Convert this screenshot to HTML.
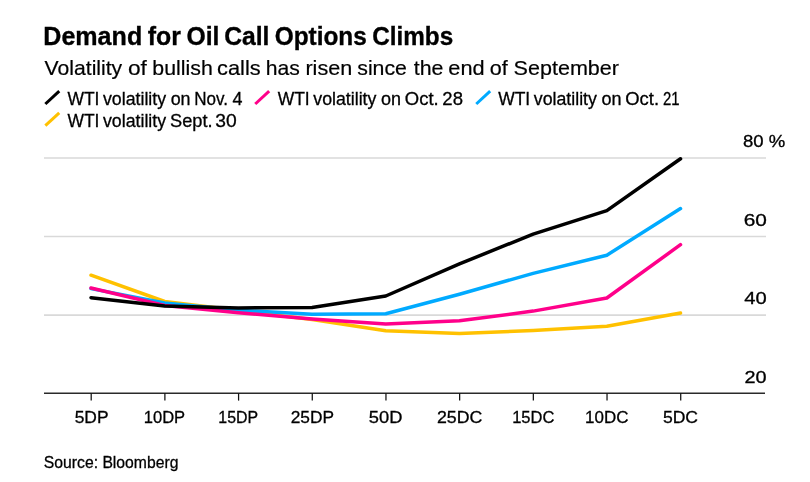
<!DOCTYPE html>
<html><head><meta charset="utf-8"><style>
html,body{margin:0;padding:0;background:#fff;width:810px;height:482px;overflow:hidden}
svg{display:block;will-change:transform}
text{font-family:"Liberation Sans", sans-serif;fill:#000;stroke:#000;stroke-width:0.2px}
text.t{stroke-width:0.35px}
text.o{stroke-width:0.3px}
</style></head><body>
<svg width="810" height="482" viewBox="0 0 810 482">
<line x1="44" y1="157.95" x2="766" y2="157.95" stroke="#d9d9d9" stroke-width="1.6"/>
<line x1="44" y1="236.5" x2="766" y2="236.5" stroke="#d9d9d9" stroke-width="1.6"/>
<line x1="44" y1="315.1" x2="766" y2="315.1" stroke="#d9d9d9" stroke-width="1.6"/>
<line x1="44" y1="393.2" x2="765" y2="393.2" stroke="#2a2a2a" stroke-width="1.5"/>
<line x1="91.20" y1="393.2" x2="91.20" y2="400.6" stroke="#111111" stroke-width="1.25"/>
<line x1="164.89" y1="393.2" x2="164.89" y2="400.6" stroke="#111111" stroke-width="1.25"/>
<line x1="238.58" y1="393.2" x2="238.58" y2="400.6" stroke="#111111" stroke-width="1.25"/>
<line x1="312.27" y1="393.2" x2="312.27" y2="400.6" stroke="#111111" stroke-width="1.25"/>
<line x1="385.96" y1="393.2" x2="385.96" y2="400.6" stroke="#111111" stroke-width="1.25"/>
<line x1="459.65" y1="393.2" x2="459.65" y2="400.6" stroke="#111111" stroke-width="1.25"/>
<line x1="533.34" y1="393.2" x2="533.34" y2="400.6" stroke="#111111" stroke-width="1.25"/>
<line x1="607.03" y1="393.2" x2="607.03" y2="400.6" stroke="#111111" stroke-width="1.25"/>
<line x1="680.72" y1="393.2" x2="680.72" y2="400.6" stroke="#111111" stroke-width="1.25"/>
<polyline points="91.00,275.20 164.69,301.50 238.38,310.50 312.07,319.60 385.76,330.70 459.45,333.40 533.14,330.60 606.83,326.20 680.52,313.00" fill="none" stroke="#ffc100" stroke-width="3.5" stroke-linejoin="round" stroke-linecap="round"/>
<polyline points="91.00,288.60 164.69,303.00 238.38,310.20 312.07,314.20 385.76,313.80 459.45,294.20 533.14,273.40 606.83,255.20 680.52,208.60" fill="none" stroke="#00aaff" stroke-width="3.5" stroke-linejoin="round" stroke-linecap="round"/>
<polyline points="91.00,288.00 164.69,305.50 238.38,312.80 312.07,319.00 385.76,324.00 459.45,320.80 533.14,311.10 606.83,298.00 680.52,244.70" fill="none" stroke="#ff008a" stroke-width="3.5" stroke-linejoin="round" stroke-linecap="round"/>
<polyline points="91.00,297.70 164.69,306.00 238.38,307.90 312.07,307.40 385.76,296.00 459.45,263.90 533.14,234.10 606.83,210.60 680.52,158.80" fill="none" stroke="#000000" stroke-width="3.5" stroke-linejoin="round" stroke-linecap="round"/>
<line x1="45.35" y1="104.00" x2="59.25" y2="91.20" stroke="#000000" stroke-width="3"/>
<line x1="255.25" y1="104.00" x2="269.15" y2="91.20" stroke="#ff008a" stroke-width="3"/>
<line x1="476.25" y1="104.00" x2="490.15" y2="91.20" stroke="#00aaff" stroke-width="3"/>
<line x1="45.35" y1="125.70" x2="59.25" y2="112.90" stroke="#ffc100" stroke-width="3"/>
<text class="t" x="43.29" y="44.7" font-size="25.7" font-weight="bold" textLength="98.93" lengthAdjust="spacingAndGlyphs">Demand</text>
<text class="t" x="147.82" y="44.7" font-size="25.7" font-weight="bold" textLength="33.15" lengthAdjust="spacingAndGlyphs">for</text>
<text class="t" x="186.44" y="44.7" font-size="25.7" font-weight="bold" textLength="32.97" lengthAdjust="spacingAndGlyphs">Oil</text>
<text class="t" x="224.14" y="44.7" font-size="25.7" font-weight="bold" textLength="45.25" lengthAdjust="spacingAndGlyphs">Call</text>
<text class="t" x="274.75" y="44.7" font-size="25.7" font-weight="bold" textLength="92.07" lengthAdjust="spacingAndGlyphs">Options</text>
<text class="t" x="372.26" y="44.7" font-size="25.7" font-weight="bold" textLength="80.94" lengthAdjust="spacingAndGlyphs">Climbs</text>
<text class="s" x="44.57" y="74.85" font-size="20.2" textLength="77.64" lengthAdjust="spacingAndGlyphs">Volatility</text>
<text class="s" x="127.92" y="74.85" font-size="20.2" textLength="18.95" lengthAdjust="spacingAndGlyphs">of</text>
<text class="s" x="152.35" y="74.85" font-size="20.2" textLength="60.38" lengthAdjust="spacingAndGlyphs">bullish</text>
<text class="s" x="217.06" y="74.85" font-size="20.2" textLength="43.59" lengthAdjust="spacingAndGlyphs">calls</text>
<text class="s" x="265.86" y="74.85" font-size="20.2" textLength="34.06" lengthAdjust="spacingAndGlyphs">has</text>
<text class="s" x="305.43" y="74.85" font-size="20.2" textLength="46.84" lengthAdjust="spacingAndGlyphs">risen</text>
<text class="s" x="357.24" y="74.85" font-size="20.2" textLength="49.71" lengthAdjust="spacingAndGlyphs">since</text>
<text class="s" x="413.84" y="74.85" font-size="20.2" textLength="29.67" lengthAdjust="spacingAndGlyphs">the</text>
<text class="s" x="448.36" y="74.85" font-size="20.2" textLength="36.27" lengthAdjust="spacingAndGlyphs">end</text>
<text class="s" x="489.66" y="74.85" font-size="20.2" textLength="18.01" lengthAdjust="spacingAndGlyphs">of</text>
<text class="s" x="513.63" y="74.85" font-size="20.2" textLength="105.39" lengthAdjust="spacingAndGlyphs">September</text>
<text class="o" x="67.38" y="104.8" font-size="17.9" textLength="32.06" lengthAdjust="spacingAndGlyphs">WTI</text>
<text class="o" x="102.98" y="104.8" font-size="17.9" textLength="63.16" lengthAdjust="spacingAndGlyphs">volatility</text>
<text class="o" x="170.65" y="104.8" font-size="17.9" textLength="19.91" lengthAdjust="spacingAndGlyphs">on</text>
<text class="o" x="194.27" y="104.8" font-size="17.9" textLength="33.75" lengthAdjust="spacingAndGlyphs">Nov.</text>
<text class="o" x="232.62" y="104.8" font-size="17.9" textLength="9.96" lengthAdjust="spacingAndGlyphs">4</text>
<text class="o" x="277.68" y="104.8" font-size="17.9" textLength="32.06" lengthAdjust="spacingAndGlyphs">WTI</text>
<text class="o" x="313.28" y="104.8" font-size="17.9" textLength="63.16" lengthAdjust="spacingAndGlyphs">volatility</text>
<text class="o" x="380.95" y="104.8" font-size="17.9" textLength="20.02" lengthAdjust="spacingAndGlyphs">on</text>
<text class="o" x="404.80" y="104.8" font-size="17.9" textLength="33.85" lengthAdjust="spacingAndGlyphs">Oct.</text>
<text class="o" x="442.39" y="104.8" font-size="17.9" textLength="20.62" lengthAdjust="spacingAndGlyphs">28</text>
<text class="o" x="498.18" y="104.8" font-size="17.9" textLength="32.06" lengthAdjust="spacingAndGlyphs">WTI</text>
<text class="o" x="533.78" y="104.8" font-size="17.9" textLength="63.16" lengthAdjust="spacingAndGlyphs">volatility</text>
<text class="o" x="601.45" y="104.8" font-size="17.9" textLength="20.02" lengthAdjust="spacingAndGlyphs">on</text>
<text class="o" x="625.30" y="104.8" font-size="17.9" textLength="33.74" lengthAdjust="spacingAndGlyphs">Oct.</text>
<text class="o" x="663.07" y="104.8" font-size="17.9" textLength="16.59" lengthAdjust="spacingAndGlyphs">21</text>
<text class="o" x="67.38" y="126.5" font-size="17.9" textLength="32.06" lengthAdjust="spacingAndGlyphs">WTI</text>
<text class="o" x="102.98" y="126.5" font-size="17.9" textLength="63.16" lengthAdjust="spacingAndGlyphs">volatility</text>
<text class="o" x="170.01" y="126.5" font-size="17.9" textLength="42.59" lengthAdjust="spacingAndGlyphs">Sept.</text>
<text class="o" x="215.29" y="126.5" font-size="17.9" textLength="21.42" lengthAdjust="spacingAndGlyphs">30</text>
<text class="o" x="742.93" y="147.0" font-size="16.0" textLength="42.26" lengthAdjust="spacingAndGlyphs">80 %</text>
<text class="o" x="743.66" y="225.7" font-size="16.0" textLength="23.11" lengthAdjust="spacingAndGlyphs">60</text>
<text class="o" x="744.33" y="304.1" font-size="16.0" textLength="22.42" lengthAdjust="spacingAndGlyphs">40</text>
<text class="o" x="744.47" y="382.6" font-size="16.0" textLength="22.06" lengthAdjust="spacingAndGlyphs">20</text>
<text class="o" x="74.68" y="422.9" font-size="17.0" textLength="33.89" lengthAdjust="spacingAndGlyphs">5DP</text>
<text class="o" x="143.78" y="422.9" font-size="17.0" textLength="41.39" lengthAdjust="spacingAndGlyphs">10DP</text>
<text class="o" x="218.33" y="422.9" font-size="17.0" textLength="39.81" lengthAdjust="spacingAndGlyphs">15DP</text>
<text class="o" x="290.71" y="422.9" font-size="17.0" textLength="43.31" lengthAdjust="spacingAndGlyphs">25DP</text>
<text class="o" x="368.89" y="422.9" font-size="17.0" textLength="33.58" lengthAdjust="spacingAndGlyphs">50D</text>
<text class="o" x="436.99" y="422.9" font-size="17.0" textLength="45.36" lengthAdjust="spacingAndGlyphs">25DC</text>
<text class="o" x="512.19" y="422.9" font-size="17.0" textLength="42.21" lengthAdjust="spacingAndGlyphs">15DC</text>
<text class="o" x="585.05" y="422.9" font-size="17.0" textLength="43.36" lengthAdjust="spacingAndGlyphs">10DC</text>
<text class="o" x="662.93" y="422.9" font-size="17.0" textLength="35.13" lengthAdjust="spacingAndGlyphs">5DC</text>
<text class="o" x="43.85" y="467.9" font-size="16.7" textLength="134.56" lengthAdjust="spacingAndGlyphs">Source: Bloomberg</text>
</svg>
</body></html>
